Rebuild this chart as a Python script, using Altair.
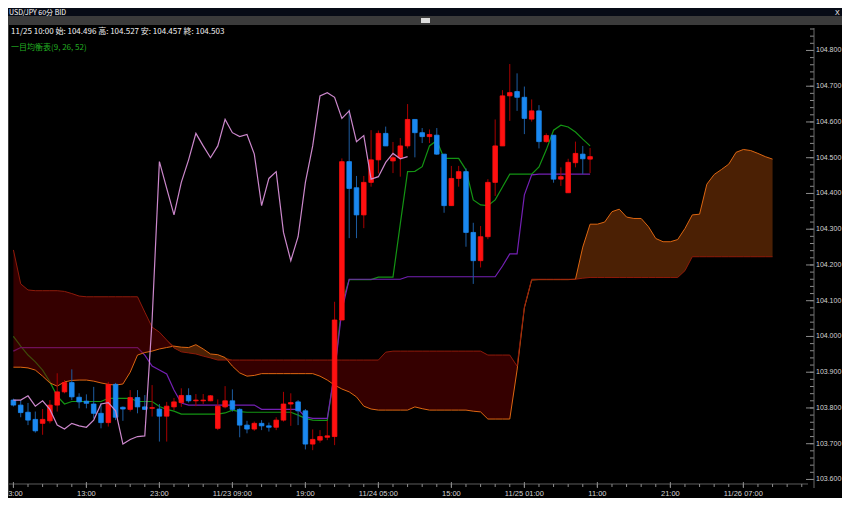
import altair as alt
import pandas as pd

# ---------------- data (hourly bars, index k) ----------------
opens = [
    103.822, 103.808, 103.788, 103.768, 103.757, 103.764, 103.808, 103.845, 103.871, 103.830,
    103.819, 103.811, 103.785, 103.759, 103.866, 103.802, 103.796, 103.829, 103.803, 103.799,
    103.797, 103.777, 103.803, 103.815, 103.835, 103.820, 103.820, 103.820, 103.743, 103.803,
    103.820, 103.796, 103.752, 103.741, 103.757, 103.750, 103.746, 103.766, 103.811, 103.817,
    103.792, 103.699, 103.710, 103.718, 103.720, 104.046, 104.489, 104.416, 104.340, 104.431,
    104.494, 104.568, 104.491, 104.500, 104.533, 104.607, 104.570, 104.559, 104.563, 104.510,
    104.366, 104.442, 104.461, 104.291, 104.212, 104.279, 104.431, 104.533, 104.673, 104.685,
    104.669, 104.608, 104.631, 104.545, 104.563, 104.440, 104.402, 104.486, 104.510, 104.496,
]
highs = [
    103.826, 103.822, 103.814, 103.790, 103.797, 103.822, 103.897, 103.878, 103.908, 103.841,
    103.838, 103.859, 103.813, 103.873, 103.870, 103.804, 103.850, 103.850, 103.836, 103.864,
    103.811, 103.817, 103.828, 103.855, 103.855, 103.839, 103.839, 103.836, 103.824, 103.861,
    103.852, 103.799, 103.764, 103.762, 103.766, 103.759, 103.774, 103.845, 103.841, 103.822,
    103.797, 103.740, 103.738, 103.764, 104.097, 104.498, 104.635, 104.449, 104.449, 104.577,
    104.576, 104.587, 104.544, 104.555, 104.650, 104.607, 104.583, 104.579, 104.583, 104.510,
    104.477, 104.477, 104.470, 104.318, 104.309, 104.440, 104.607, 104.689, 104.762, 104.736,
    104.699, 104.663, 104.647, 104.568, 104.563, 104.473, 104.497, 104.545, 104.533, 104.527,
]
lows = [
    103.804, 103.774, 103.752, 103.731, 103.725, 103.757, 103.790, 103.841, 103.822, 103.799,
    103.799, 103.771, 103.743, 103.748, 103.766, 103.764, 103.790, 103.785, 103.794, 103.776,
    103.706, 103.706, 103.794, 103.803, 103.815, 103.805, 103.811, 103.819, 103.738, 103.799,
    103.790, 103.718, 103.729, 103.736, 103.738, 103.734, 103.738, 103.762, 103.750, 103.752,
    103.684, 103.682, 103.703, 103.710, 103.696, 104.046, 104.275, 104.275, 104.303, 104.419,
    104.456, 104.533, 104.457, 104.447, 104.526, 104.501, 104.541, 104.541, 104.508, 104.346,
    104.365, 104.419, 104.251, 104.147, 104.193, 104.272, 104.393, 104.533, 104.603, 104.631,
    104.566, 104.601, 104.526, 104.542, 104.430, 104.421, 104.402, 104.473, 104.454, 104.457,
]
closes = [
    103.808, 103.787, 103.766, 103.736, 103.768, 103.808, 103.845, 103.871, 103.831, 103.817,
    103.813, 103.785, 103.759, 103.866, 103.774, 103.797, 103.829, 103.803, 103.796, 103.801,
    103.777, 103.805, 103.817, 103.835, 103.820, 103.822, 103.822, 103.834, 103.805, 103.820,
    103.796, 103.752, 103.741, 103.757, 103.750, 103.746, 103.766, 103.811, 103.815, 103.792,
    103.699, 103.712, 103.720, 103.722, 104.046, 104.489, 104.414, 104.340, 104.431, 104.494,
    104.568, 104.533, 104.500, 104.533, 104.607, 104.570, 104.559, 104.565, 104.510, 104.366,
    104.442, 104.461, 104.291, 104.212, 104.279, 104.431, 104.533, 104.673, 104.682, 104.669,
    104.610, 104.631, 104.545, 104.562, 104.440, 104.447, 104.487, 104.512, 104.497, 104.503,
]
tenkan = [
    104.000, 103.973, 103.948, 103.929, 103.906, 103.873, 103.833, 103.811, 103.818, 103.818,
    103.818, 103.818, 103.818, 103.827, 103.827, 103.827, 103.827, 103.818, 103.818, 103.818,
    103.804, 103.796, 103.791, 103.783, 103.783, 103.783, 103.783, 103.783, 103.783, 103.786,
    103.794, 103.790, 103.788, 103.788, 103.788, 103.788, 103.788, 103.788, 103.788, 103.780,
    103.771, 103.766, 103.765, 103.765, 103.900, 104.091, 104.159, 104.159, 104.159, 104.159,
    104.166, 104.166, 104.166, 104.315, 104.461, 104.462, 104.475, 104.533, 104.548, 104.498,
    104.498, 104.498, 104.466, 104.382, 104.368, 104.366, 104.382, 104.418, 104.454, 104.454,
    104.454, 104.454, 104.474, 104.522, 104.577, 104.591, 104.586, 104.572, 104.552, 104.533,
]
kijun = [
    103.959, 103.969, 103.969, 103.969, 103.969, 103.969, 103.969, 103.969, 103.969, 103.969,
    103.969, 103.969, 103.969, 103.969, 103.969, 103.969, 103.969, 103.969, 103.948, 103.917,
    103.906, 103.895, 103.850, 103.814, 103.808, 103.808, 103.808, 103.808, 103.808, 103.808,
    103.808, 103.808, 103.808, 103.808, 103.796, 103.796, 103.796, 103.796, 103.796, 103.796,
    103.775, 103.771, 103.771, 103.771, 103.900, 104.074, 104.160, 104.160, 104.160, 104.160,
    104.160, 104.160, 104.160, 104.160, 104.167, 104.167, 104.167, 104.167, 104.167, 104.167,
    104.167, 104.167, 104.167, 104.167, 104.167, 104.167, 104.167, 104.197, 104.231, 104.231,
    104.396, 104.452, 104.454, 104.454, 104.454, 104.454, 104.454, 104.454, 104.454, 104.454,
]
senkou_a = [
    103.914, 103.914, 103.912, 103.906, 103.889, 103.870, 103.861, 103.873, 103.877, 103.878,
    103.878, 103.875, 103.870, 103.866, 103.864, 103.867, 103.900, 103.948, 103.955, 103.959,
    103.965, 103.969, 103.973, 103.970, 103.969, 103.977, 103.965, 103.951, 103.949, 103.941,
    103.917, 103.898, 103.889, 103.891, 103.896, 103.896, 103.896, 103.896, 103.896, 103.896,
    103.896, 103.896, 103.889, 103.878, 103.864, 103.853, 103.845, 103.831, 103.805, 103.797,
    103.794, 103.794, 103.794, 103.794, 103.794, 103.803, 103.798, 103.794, 103.794, 103.794,
    103.794, 103.794, 103.794, 103.791, 103.789, 103.769, 103.769, 103.769, 103.769, 103.906,
    104.080, 104.158, 104.159, 104.159, 104.159, 104.159, 104.159, 104.160, 104.250, 104.314,
    104.314, 104.320, 104.349, 104.356, 104.334, 104.330, 104.330, 104.307, 104.274, 104.265,
    104.265, 104.271, 104.302, 104.340, 104.342, 104.426, 104.453, 104.467, 104.482, 104.515,
    104.523, 104.520, 104.512, 104.503, 104.496,
]
senkou_b = [
    104.242, 104.147, 104.130, 104.128, 104.128, 104.128, 104.128, 104.126, 104.120, 104.113,
    104.111, 104.111, 104.111, 104.111, 104.111, 104.111, 104.111, 104.111, 104.068, 104.026,
    104.012, 103.990, 103.968, 103.957, 103.954, 103.951, 103.945, 103.940, 103.934, 103.934,
    103.934, 103.934, 103.934, 103.934, 103.934, 103.934, 103.934, 103.934, 103.934, 103.934,
    103.934, 103.934, 103.934, 103.934, 103.934, 103.934, 103.934, 103.934, 103.934, 103.934,
    103.934, 103.956, 103.959, 103.959, 103.959, 103.959, 103.959, 103.959, 103.959, 103.959,
    103.959, 103.959, 103.959, 103.959, 103.959, 103.948, 103.948, 103.948, 103.948, 103.917,
    104.083, 104.160, 104.160, 104.160, 104.160, 104.160, 104.160, 104.160, 104.163, 104.165,
    104.165, 104.165, 104.165, 104.165, 104.165, 104.165, 104.165, 104.165, 104.165, 104.165,
    104.165, 104.165, 104.184, 104.223, 104.223, 104.223, 104.223, 104.223, 104.223, 104.223,
    104.223, 104.223, 104.223, 104.223, 104.223,
]
chikou_shift = 25
tick_bars = [0, 10, 20, 30, 40, 50, 60, 70, 80, 90, 100]
tick_labels = ["03:00", "13:00", "23:00", "11/23 09:00", "19:00", "11/24 05:00",
               "15:00", "11/25 01:00", "11:00", "21:00", "11/26 07:00"]
minor_bars = [0, 2, 4, 6, 8, 10, 12, 14, 16, 18, 20, 22, 24, 26, 28, 30, 32, 34, 36, 38,
              40, 42, 44, 46, 48, 50, 52, 54, 56, 58, 60, 62, 64, 66, 68, 70, 72, 74, 76, 78,
              80, 82, 84, 86, 88, 90, 92, 94, 96, 98, 100, 102, 104, 106, 108]
price_ticks = [103.6, 103.7, 103.8, 103.9, 104.0, 104.1, 104.2, 104.3, 104.4, 104.5, 104.6, 104.7, 104.8]
title_text = "USD/JPY 60分 BID"
indicator_text = "一目均衡表(9, 26, 52)"
last_time = "11/25 10:00"

# ---------------- tables ----------------
n = len(closes)
bars = pd.DataFrame({"k": list(range(n)), "open": opens, "high": highs, "low": lows, "close": closes})
up = bars["close"] >= bars["open"]
bars["body"] = ["#ff1010" if u else "#1a88f0" for u in up]
bars["wick"] = ["#a80000" if u else "#1d5ca0" for u in up]

kumo = pd.DataFrame({"k": list(range(len(senkou_a))), "a": senkou_a, "b": senkou_b})
kumo["hi"] = kumo[["a", "b"]].max(axis=1)

ten_df = pd.DataFrame({"k": list(range(n)), "v": tenkan})
kij_df = pd.DataFrame({"k": list(range(n)), "v": kijun})
chi_df = pd.DataFrame({"k": list(range(n - chikou_shift)), "v": closes[chikou_shift:]})
xlab_df = pd.DataFrame({"k": tick_bars, "label": tick_labels})
ylab_df = pd.DataFrame({"v": price_ticks, "label": [f"{p:.3f}" for p in price_ticks]})

W, H = 799, 458
xs = alt.Scale(domain=[0.081, 108.17], nice=False, zero=False)
ys = alt.Scale(domain=[103.5873, 104.8684], nice=False, zero=False)

X = alt.X("k:Q", scale=xs, axis=None)
AX = "#8c8c8c"
LAB = "#d4d4d4"

# Ichimoku lines under the cloud
tenkan_line = alt.Chart(ten_df).mark_line(clip=True, color="#139413", strokeWidth=1.2).encode(
    x=X, y=alt.Y("v:Q", scale=ys, axis=None))
kijun_line = alt.Chart(kij_df).mark_line(clip=True, color="#7420b4", strokeWidth=1.2).encode(
    x=X, y=alt.Y("v:Q", scale=ys, axis=None))

cloud_bear = alt.Chart(kumo).mark_area(clip=True, color="#6a0000", opacity=0.5).encode(
    x=X, y=alt.Y("hi:Q", scale=ys, axis=None), y2="a:Q")
cloud_bull = alt.Chart(kumo).mark_area(clip=True, color="#964008", opacity=0.5).encode(
    x=X, y=alt.Y("hi:Q", scale=ys, axis=None), y2="b:Q")
span_a = alt.Chart(kumo).mark_line(clip=True, color="#dd6611", strokeWidth=1).encode(
    x=X, y=alt.Y("a:Q", scale=ys, axis=None))
span_b = alt.Chart(kumo).mark_line(clip=True, color="#8e1a0a", strokeWidth=1).encode(
    x=X, y=alt.Y("b:Q", scale=ys, axis=None))

wicks = alt.Chart(bars).mark_rule(clip=True, strokeWidth=1).encode(
    x=X, y=alt.Y("low:Q", scale=ys, axis=None), y2="high:Q",
    color=alt.Color("wick:N", scale=None))
bodies = alt.Chart(bars).mark_bar(clip=True, size=4.6, strokeWidth=0.8).encode(
    x=X, y=alt.Y("open:Q", scale=ys, axis=None), y2="close:Q",
    color=alt.Color("body:N", scale=None), stroke=alt.Stroke("body:N", scale=None))

chikou_line = alt.Chart(chi_df).mark_line(clip=True, color="#cc88cc", strokeWidth=1.2).encode(
    x=X, y=alt.Y("v:Q", scale=ys, axis=None))

# axes drawn from the scales
one = pd.DataFrame({"o": [0]})
minor_y = pd.DataFrame({"v": [round(103.60 + 0.02 * i, 2) for i in range(64)]})
y_minor = alt.Chart(minor_y).mark_rule(color=AX, strokeWidth=1).encode(
    y=alt.Y("v:Q", scale=ys, axis=None), x=alt.value(W + 2), x2=alt.value(W + 6))
y_major = alt.Chart(ylab_df).mark_rule(color=AX, strokeWidth=1).encode(
    y=alt.Y("v:Q", scale=ys, axis=None), x=alt.value(W - 2), x2=alt.value(W + 6))
y_labels = alt.Chart(ylab_df).mark_text(align="left", baseline="middle", fontSize=7,
                                        color=LAB, font="Liberation Sans").encode(
    y=alt.Y("v:Q", scale=ys, axis=None), x=alt.value(W + 8), text="label:N")
y_line = alt.Chart(one).mark_rule(color="#6a6a6a", strokeWidth=1).encode(
    x=alt.value(W + 6), y=alt.value(2), y2=alt.value(H + 4))
x_line = alt.Chart(one).mark_rule(color="#5c5c5c", strokeWidth=1).encode(
    x=alt.value(0), x2=alt.value(W), y=alt.value(H))
x_minor = alt.Chart(pd.DataFrame({"k": minor_bars})).mark_rule(color=AX, strokeWidth=1).encode(
    x=X, y=alt.value(H), y2=alt.value(H + 3))
x_major = alt.Chart(xlab_df).mark_rule(color=AX, strokeWidth=1).encode(
    x=X, y=alt.value(H - 2), y2=alt.value(H + 4))
x_labels = alt.Chart(xlab_df).mark_text(align="center", baseline="middle", fontSize=7.5,
                                        color=LAB, font="Liberation Sans").encode(
    x=X, y=alt.value(H + 10), text="label:N")

# window chrome
title_bar = alt.Chart(one).mark_rect(color="#070b16").encode(
    x=alt.value(-2), x2=alt.value(834), y=alt.value(-19), y2=alt.value(-10))
strip = alt.Chart(one).mark_rect(color="#3b3b3b").encode(
    x=alt.value(-2), x2=alt.value(834), y=alt.value(-10), y2=alt.value(-1))
left_strip = alt.Chart(one).mark_rect(color="#3b3b3b").encode(
    x=alt.value(-2), x2=alt.value(0), y=alt.value(-1), y2=alt.value(H + 12))
button = alt.Chart(one).mark_rect(color="#dcdcdc").encode(
    x=alt.value(412), x2=alt.value(421), y=alt.value(-8), y2=alt.value(-3))
title = alt.Chart(one).mark_text(text=title_text, align="left", baseline="middle", fontSize=7,
                                 color="#ffffff", font="Noto Sans CJK JP").encode(
    x=alt.value(0), y=alt.value(-13.5))
close_x = alt.Chart(one).mark_text(text="X", align="left", baseline="middle", fontSize=7,
                                   color="#ffffff", font="Liberation Sans").encode(
    x=alt.value(826), y=alt.value(-13.5))
info = alt.Chart(one).mark_text(
    text=f"{last_time} 始: {opens[-1]:.3f} 高: {highs[-1]:.3f} 安: {lows[-1]:.3f} 終: {closes[-1]:.3f}",
    align="left", baseline="middle", fontSize=8, color="#f0f0f0", font="Noto Sans CJK JP").encode(
    x=alt.value(2), y=alt.value(5.5))
indicator = alt.Chart(one).mark_text(text=indicator_text, align="left", baseline="middle", fontSize=8,
                                     color="#22ae22", font="Noto Sans CJK JP").encode(
    x=alt.value(2), y=alt.value(22))

chart = alt.layer(
    tenkan_line, kijun_line, cloud_bear, cloud_bull, span_a, span_b,
    wicks, bodies, chikou_line,
    x_line, x_minor, x_major, x_labels, y_minor, y_major, y_line, y_labels,
    title_bar, strip, left_strip, button, title, close_x, info, indicator,
).properties(
    width=W, height=H,
    padding={"left": 1, "top": 18, "right": 34, "bottom": 14},
    autosize=alt.AutoSizeParams(type="none"),
    background="#000000",
).configure_view(stroke=None)

chart.save("out.html", embed_options={"renderer": "svg", "actions": False})
